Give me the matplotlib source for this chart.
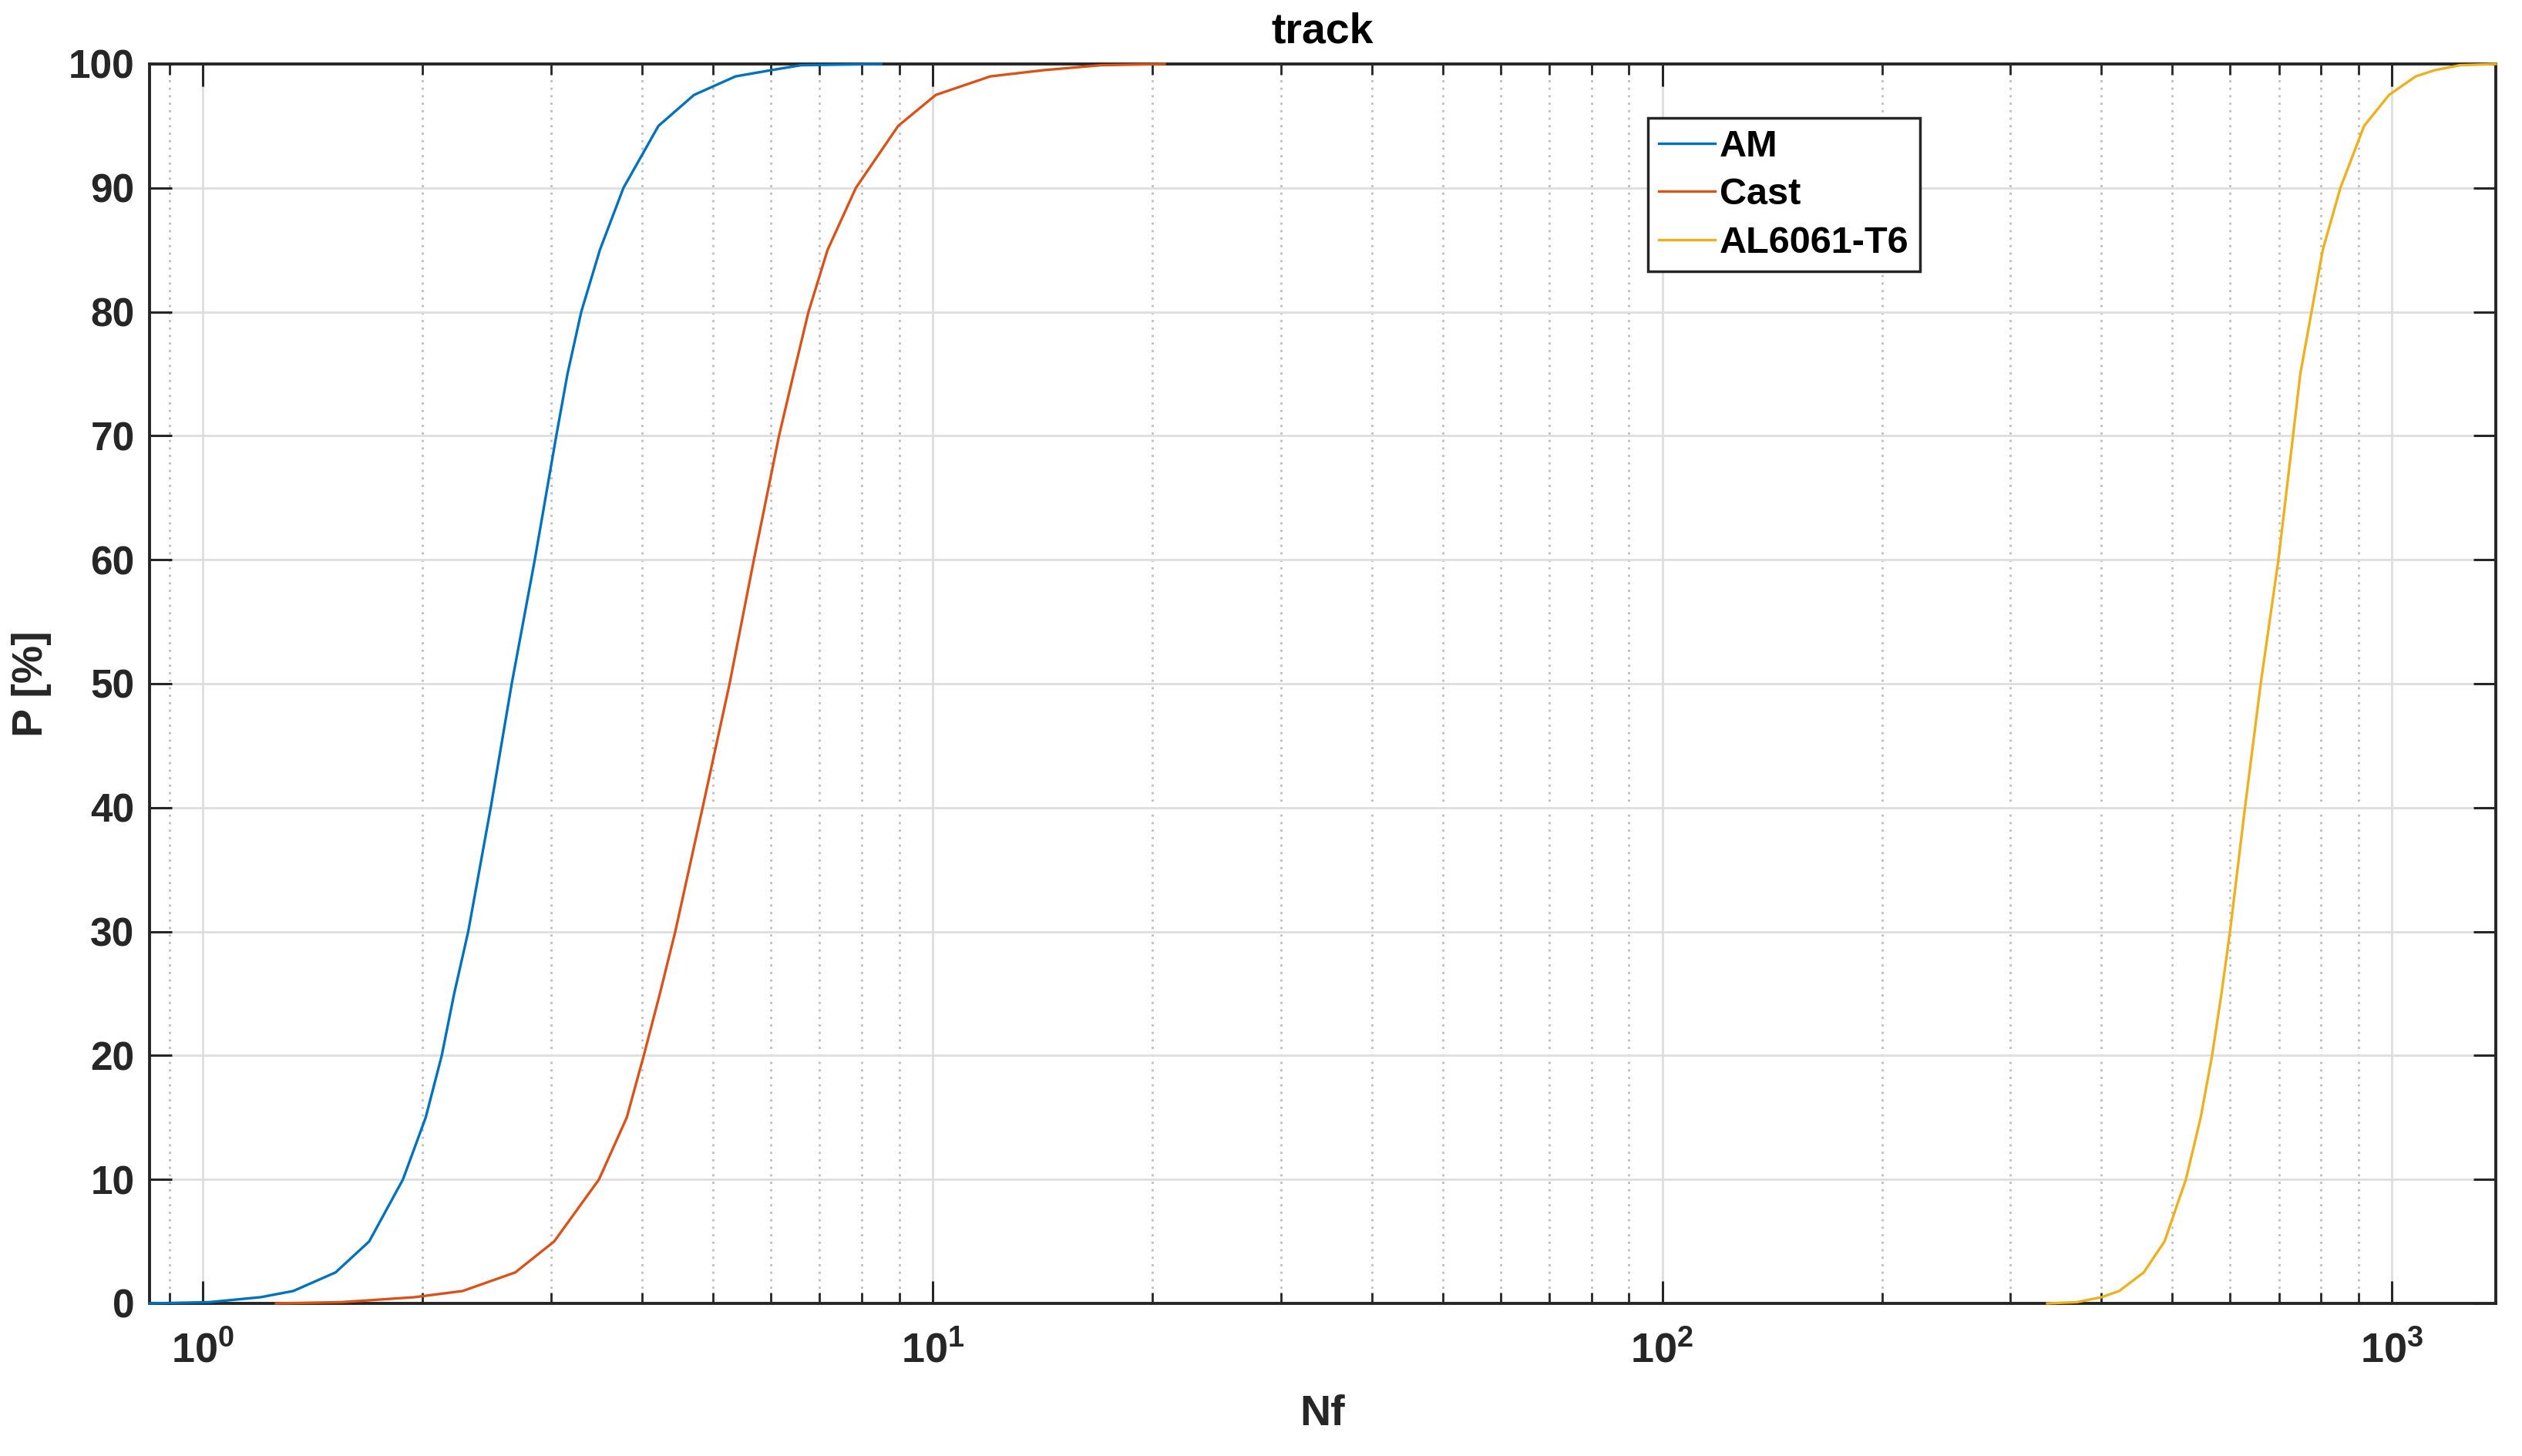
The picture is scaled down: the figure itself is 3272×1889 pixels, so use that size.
import numpy as np
import matplotlib.pyplot as plt
from matplotlib.ticker import LogLocator, FuncFormatter, NullFormatter

#font setup, MATLAB look (Arial bold -> Liberation Sans)
plt.rcParams['font.family'] = ['Liberation Sans', 'DejaVu Sans']
plt.rcParams['font.weight'] = 'bold'
plt.rcParams['mathtext.fontset'] = 'custom'
plt.rcParams['mathtext.rm'] = 'Liberation Sans:bold'
plt.rcParams['mathtext.bf'] = 'Liberation Sans:bold'
plt.rcParams['mathtext.it'] = 'Liberation Sans:bold'

#probability levels (%) and cycles
p_levels = [0, 0.1, 0.5, 1, 2.5, 5, 10, 15, 20, 25, 30, 40, 50, 60, 70, 75, 80, 85, 90, 95, 97.5, 99, 99.5, 99.9, 100]
nf_am = [0.845, 1.02, 1.2, 1.33, 1.52, 1.69, 1.88, 2.02, 2.125, 2.21, 2.31, 2.48, 2.65, 2.85, 3.05, 3.16, 3.30, 3.50, 3.77, 4.21, 4.71, 5.37, 6.01, 6.6, 8.5]
nf_cast = [1.26, 1.55, 1.95, 2.27, 2.68, 3.03, 3.49, 3.81, 4.02, 4.23, 4.44, 4.84, 5.27, 5.69, 6.16, 6.45, 6.76, 7.18, 7.85, 8.97, 10.1, 12.0, 14.2, 17.0, 20.8]
nf_al = [337, 370, 400, 423, 457, 488, 522, 547, 567, 584, 600, 629, 661, 699, 732, 749, 776, 804, 850, 916, 991, 1078, 1145, 1239, 1388]

labels = ['AM', 'Cast', 'AL6061-T6']
colors = ['#0072BD', '#D95319', '#EDB120']
y_ticks = [0, 10, 20, 30, 40, 50, 60, 70, 80, 90, 100]

fig = plt.figure(figsize=(32.73, 18.89), dpi=100)
ax = fig.add_axes([194/3273, 1 - 1691/1889, 3044/3273, 1608/1889])

for nf, lab, col in zip([nf_am, nf_cast, nf_al], labels, colors):
    ax.plot(nf, p_levels, color=col, lw=2.4, label=lab, zorder=3, clip_on=False)

ax.set_xscale('log')
ax.set_xlim(min(nf_am), max(nf_al))
ax.set_ylim(0, 100)
ax.set_yticks(y_ticks)

ax.xaxis.set_major_locator(LogLocator(base=10))
ax.xaxis.set_minor_locator(LogLocator(base=10, subs=np.arange(2, 10)))
ax.xaxis.set_minor_formatter(NullFormatter())
ax.xaxis.set_major_formatter(FuncFormatter(lambda v, pos: r'$10^{%d}$' % int(round(np.log10(v)))))

#grid: solid major, dotted minor on x
ax.grid(True, which='major', color='#dedede', lw=2.0, ls='-')
ax.grid(True, which='minor', axis='x', color='#bdbdbd', lw=2.0, ls=(0, (1, 2.5)))
ax.set_axisbelow(True)

ax.tick_params(which='major', direction='in', top=True, right=True, length=21, width=2.2,
               labelsize=37, color='#262626', labelcolor='#262626')
ax.tick_params(which='minor', direction='in', top=True, right=True, length=10, width=2.0, color='#262626')
ax.tick_params(axis='x', which='major', pad=26, labelsize=39)
ax.tick_params(axis='y', which='major', pad=14)
for s in ax.spines.values():
    s.set_linewidth(2.8)
    s.set_color('#262626')

ax.set_xlabel('Nf', fontsize=40, fontweight='bold', color='#262626', labelpad=22)
ax.set_ylabel('P [%]', fontsize=40, fontweight='bold', color='#262626', labelpad=16)
ax.set_title('track', fontsize=40, fontweight='bold', color='#000000', pad=20)

leg = ax.legend(loc='upper left', bbox_to_anchor=(0.6386, 0.9565), fontsize=35, frameon=True,
                fancybox=False, edgecolor='#262626', framealpha=1, handlelength=1.5,
                handletextpad=0.12, labelspacing=0.36, borderpad=0.3, borderaxespad=0)
leg.get_frame().set_linewidth(2.5)
for t in leg.get_texts():
    t.set_fontweight('bold')
for h in leg.get_lines():
    h.set_linewidth(2.4)

plt.savefig('out.png', dpi=100)
